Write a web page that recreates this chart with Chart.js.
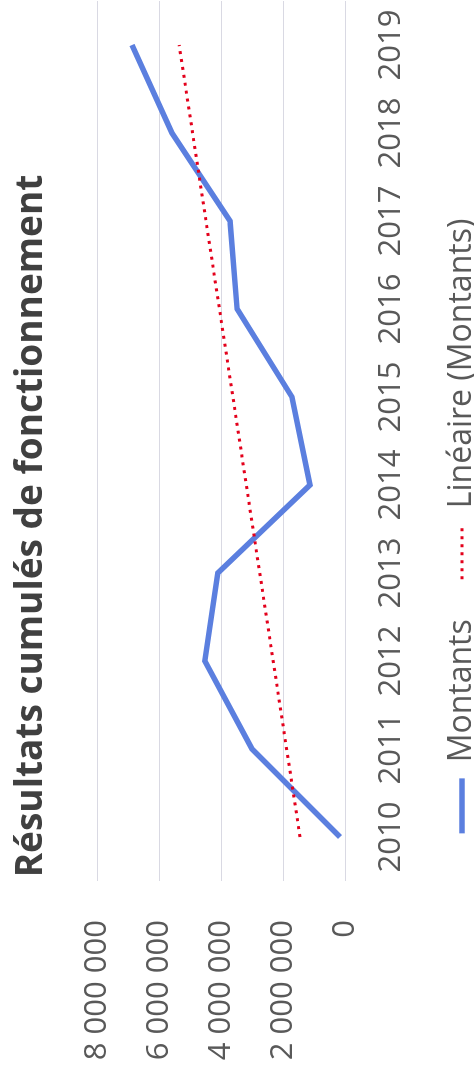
<!DOCTYPE html>
<html>
<head>
<meta charset="utf-8">
<script src="https://cdn.jsdelivr.net/npm/chart.js@4.4.0/dist/chart.umd.min.js"></script>
<style>
html,body{margin:0;padding:0;background:#fff;overflow:hidden;width:474px;height:1080px;}
#wrap{position:absolute;left:0;top:0;width:1108px;height:488px;transform-origin:0 0;transform:translate(0,1080px) rotate(-90deg);}
</style>
</head>
<body>
<div id="wrap"><canvas id="c" width="1108" height="488"></canvas></div>
<script>
const categories = ['2010','2011','2012','2013','2014','2015','2016','2017','2018','2019'];
const montants = [160000, 3000000, 4520000, 4100000, 1130000, 1710000, 3480000, 3710000, 5580000, 6870000];
const lineaire = [1450000, null, null, null, null, null, null, null, null, 5350000];
const yTickLabels = ['0', '2 000 000', '4 000 000', '6 000 000', '8 000 000'];
const titleText = 'Résultats cumulés de fonctionnement';
const seriesNames = ['Montants', 'Linéaire (Montants)'];

const FONT = "'Open Sans', sans-serif";
const TEXT_COLOR = '#595959';

new Chart(document.getElementById('c'), {
  type: 'line',
  data: {
    labels: categories,
    datasets: [
      {
        label: seriesNames[0],
        data: montants,
        borderColor: '#5b7fdf',
        backgroundColor: '#5b7fdf',
        borderWidth: 5.5,
        pointRadius: 0,
        tension: 0,
        order: 1
      },
      {
        label: seriesNames[1],
        data: lineaire,
        borderColor: '#e3001b',
        backgroundColor: '#e3001b',
        borderWidth: 3,
        borderDash: [3, 5],
        spanGaps: true,
        pointRadius: 0,
        tension: 0,
        order: 0
      }
    ]
  },
  options: {
    responsive: false,
    animation: false,
    devicePixelRatio: 1,
    layout: { padding: { left: 29, right: 29, top: 0, bottom: 0 } },
    plugins: {
      tooltip: { enabled: false },
      title: {
        display: true,
        text: titleText,
        color: '#404040',
        font: { family: FONT, size: 37, weight: 'bold' },
        padding: { top: 8.8, bottom: 43.8 }
      },
      legend: {
        display: true,
        position: 'bottom',
        labels: {
          color: TEXT_COLOR,
          font: { family: FONT, size: 32 },
          usePointStyle: true,
          pointStyleWidth: 55,
          padding: 40,
          generateLabels: (chart) => chart.data.datasets.map((ds, i) => ({
            text: ds.label,
            fillStyle: ds.borderColor,
            strokeStyle: ds.borderColor,
            lineWidth: ds.borderWidth,
            lineDash: ds.borderDash || [],
            lineCap: 'butt',
            pointStyle: 'line',
            fontColor: TEXT_COLOR,
            hidden: false,
            datasetIndex: i
          }))
        }
      }
    },
    scales: {
      x: {
        offset: true,
        grid: { display: false, drawTicks: false },
        border: { display: false },
        ticks: {
          color: TEXT_COLOR,
          font: { family: FONT, size: 31 },
          padding: 28,
          maxRotation: 0,
          autoSkip: false
        },
        afterFit: (s) => { s.height = 61; s._computeLabelArea = () => null; }
      },
      y: {
        min: 0,
        max: 8000000,
        grid: { color: '#d9d9e3', lineWidth: 1, drawTicks: false },
        border: { display: false },
        ticks: {
          stepSize: 2000000,
          color: TEXT_COLOR,
          font: { family: FONT, size: 31 },
          padding: 39,
          callback: (v, i) => yTickLabels[i]
        },
        afterFit: (s) => { s.width = 170; s._computeLabelArea = () => null; }
      }
    }
  }
});
</script>
</body>
</html>
